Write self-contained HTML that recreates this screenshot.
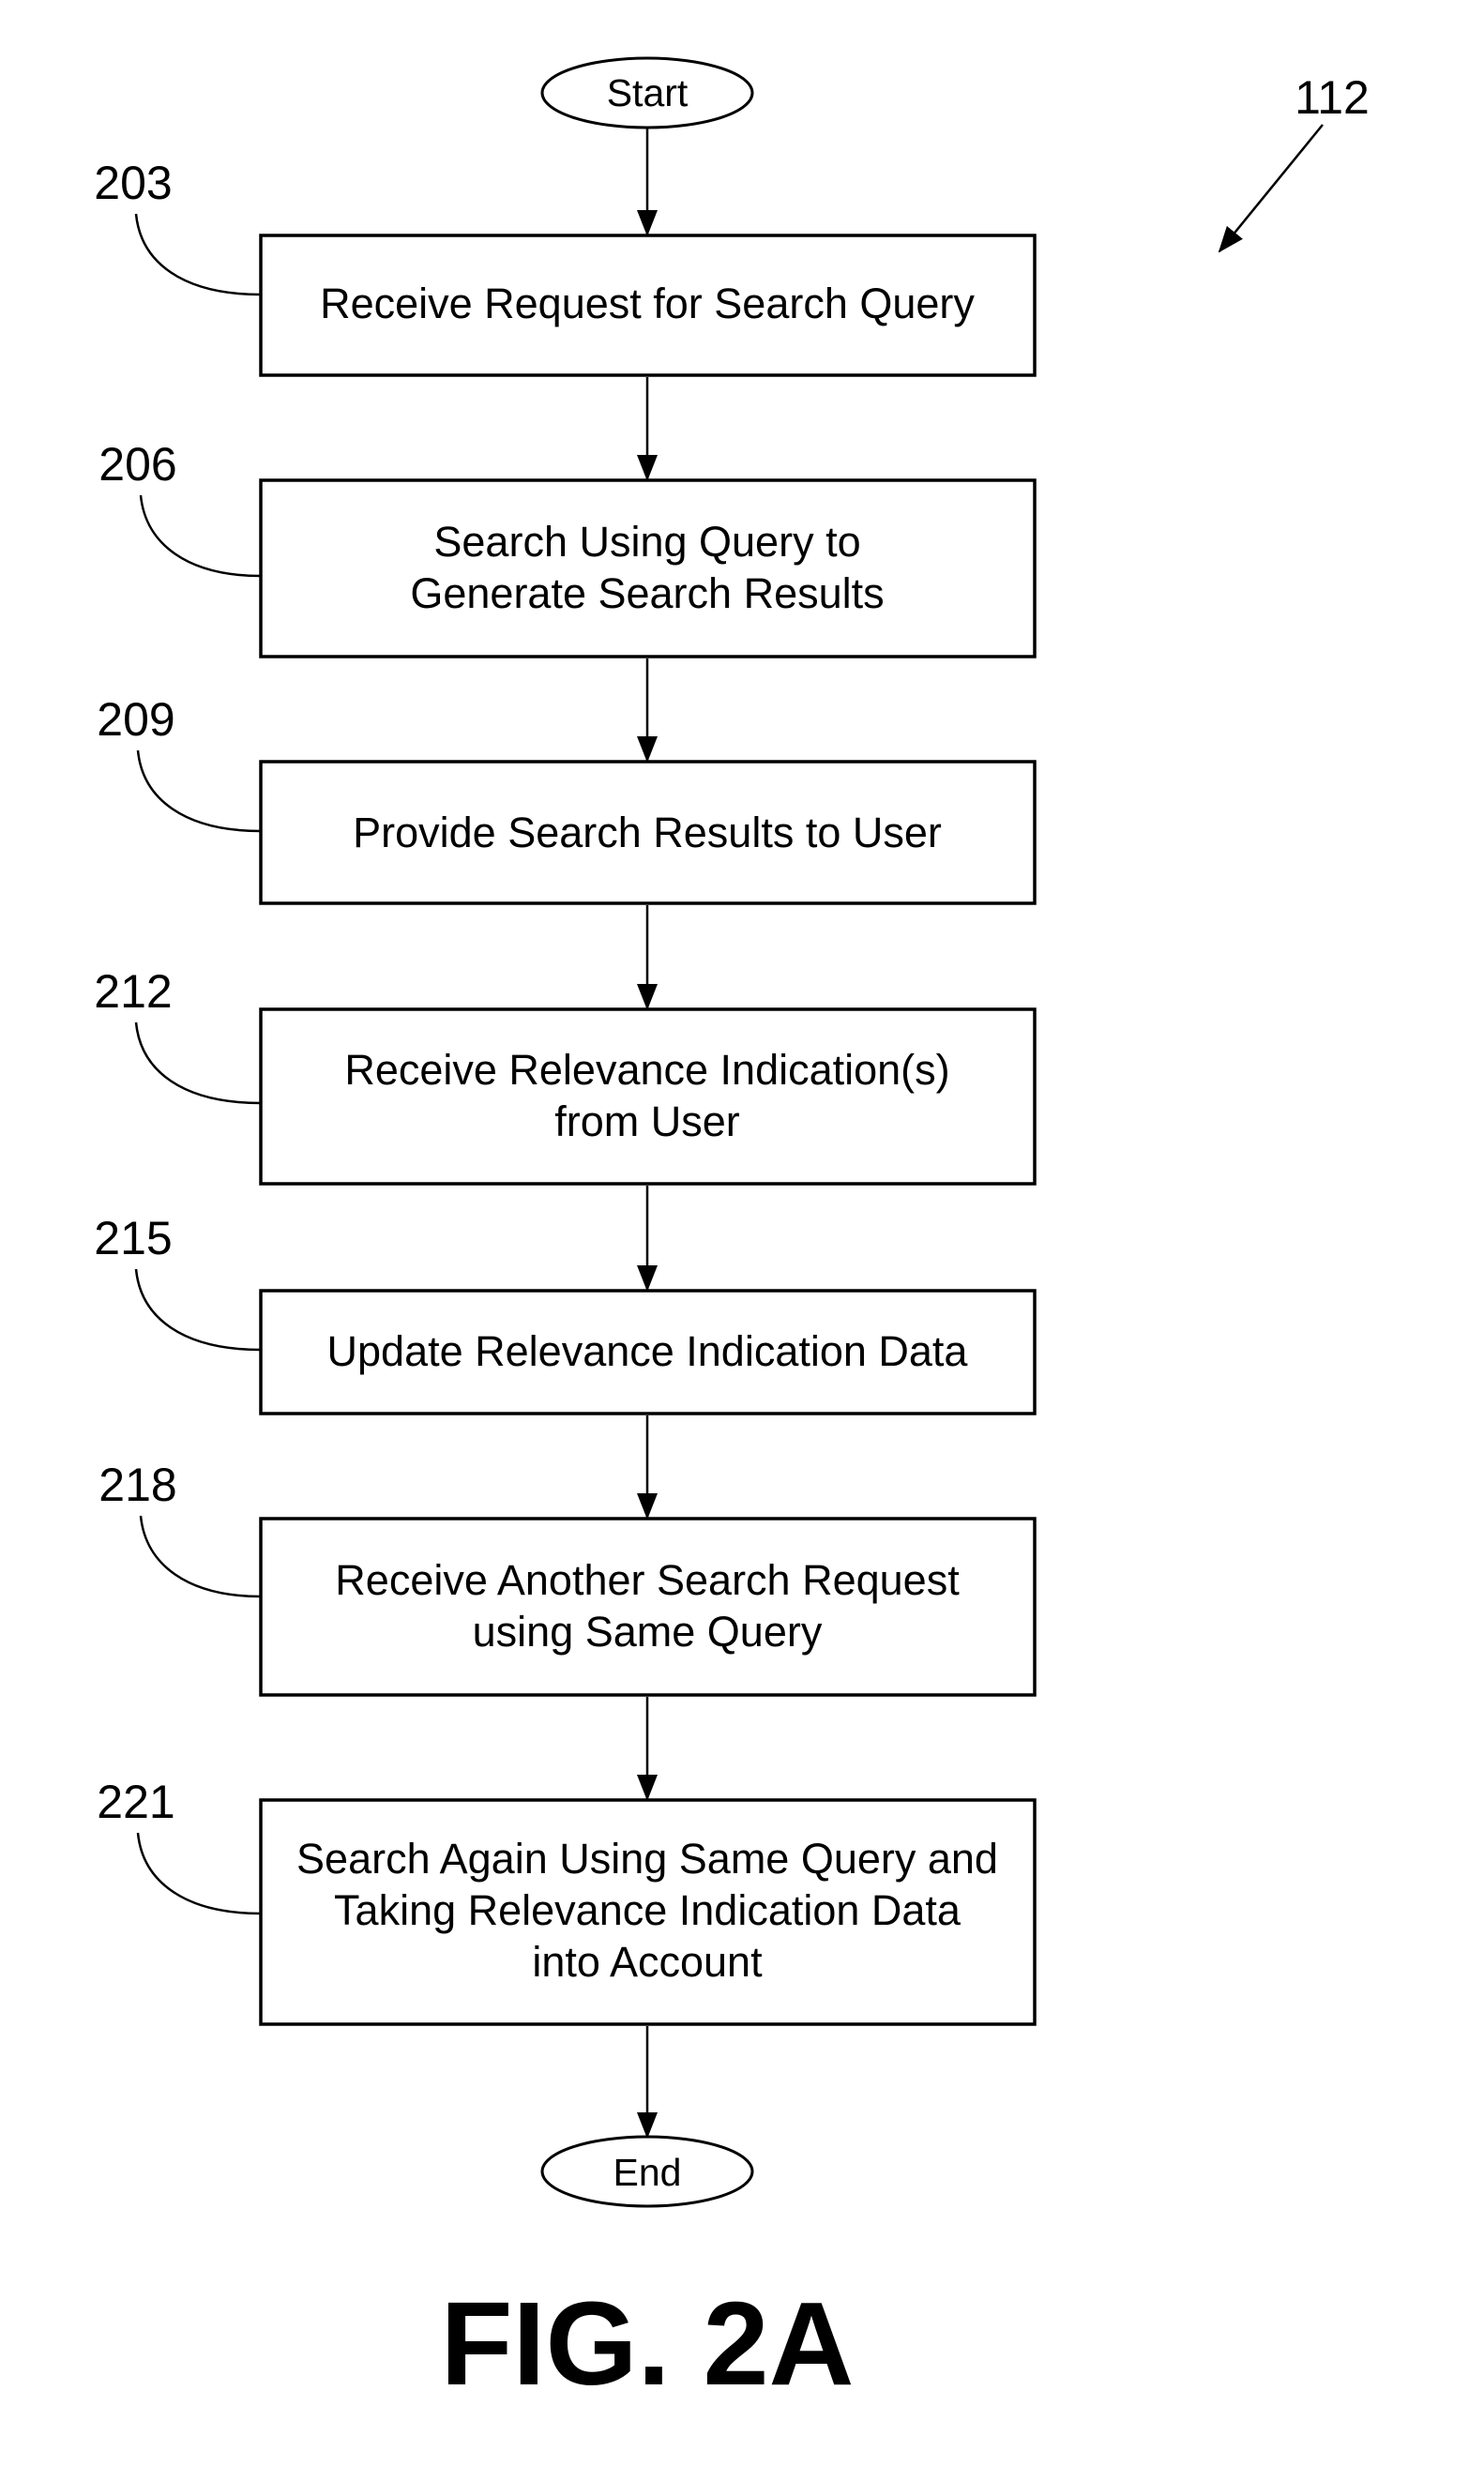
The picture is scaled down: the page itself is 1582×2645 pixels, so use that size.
<!DOCTYPE html>
<html><head><meta charset="utf-8"><style>
html,body{margin:0;padding:0;background:#fff;}
svg{display:block;}
text{font-family:"Liberation Sans",Arial,sans-serif;fill:#000;}
</style></head><body>
<svg width="1582" height="2645" viewBox="0 0 1582 2645" xmlns="http://www.w3.org/2000/svg">
<defs>
<marker id="ah" markerWidth="12" markerHeight="14" refX="11" refY="7" orient="auto" markerUnits="userSpaceOnUse" viewBox="0 0 12 14">
<path d="M0,0 L12,7 L0,14 Z" fill="#000"/>
</marker>
<marker id="ah2" markerWidth="28" markerHeight="22" refX="26" refY="11" orient="auto" markerUnits="userSpaceOnUse" viewBox="0 0 28 22">
<path d="M0,0 L28,11 L0,22 Z" fill="#000"/>
</marker>
</defs>
<g fill="none" stroke="#000" stroke-width="3.5">
<ellipse cx="690" cy="99" rx="112" ry="37" stroke-width="3"/>
<rect x="278" y="251" width="825" height="149"/>
<rect x="278" y="512" width="825" height="188"/>
<rect x="278" y="812" width="825" height="151"/>
<rect x="278" y="1076" width="825" height="186"/>
<rect x="278" y="1376" width="825" height="131"/>
<rect x="278" y="1619" width="825" height="188"/>
<rect x="278" y="1919" width="825" height="239"/>
<ellipse cx="690" cy="2315" rx="112" ry="37" stroke-width="3"/>
</g>
<g stroke="#000" stroke-width="2.5" marker-end="url(#ah)">
<line x1="690" y1="137" x2="690" y2="250" marker-end="url(#ah2)"/>
<line x1="690" y1="402" x2="690" y2="511" marker-end="url(#ah2)"/>
<line x1="690" y1="702" x2="690" y2="811" marker-end="url(#ah2)"/>
<line x1="690" y1="965" x2="690" y2="1075" marker-end="url(#ah2)"/>
<line x1="690" y1="1264" x2="690" y2="1375" marker-end="url(#ah2)"/>
<line x1="690" y1="1509" x2="690" y2="1618" marker-end="url(#ah2)"/>
<line x1="690" y1="1809" x2="690" y2="1918" marker-end="url(#ah2)"/>
<line x1="690" y1="2160" x2="690" y2="2278" marker-end="url(#ah2)"/>
<line x1="1410" y1="133" x2="1300" y2="268" marker-end="url(#ah2)"/>
</g>
<g fill="none" stroke="#000" stroke-width="2.5">
<path d="M145,228 C150,280 195,314 278,314"/>
<path d="M150,528 C155,580 200,614 278,614"/>
<path d="M147,800 C152,852 197,886 278,886"/>
<path d="M145,1090 C150,1142 195,1176 278,1176"/>
<path d="M145,1353 C150,1405 195,1439 278,1439"/>
<path d="M150,1616 C155,1668 200,1702 278,1702"/>
<path d="M147,1954 C152,2006 197,2040 278,2040"/>
</g>
<g font-size="41" text-anchor="middle">
<text x="690" y="113">Start</text>
<text x="690" y="2330">End</text>
</g>
<g font-size="45" text-anchor="middle">
<text x="690" y="339">Receive Request for Search Query</text>
<text x="690" y="593">Search Using Query to</text>
<text x="690" y="648">Generate Search Results</text>
<text x="690" y="903">Provide Search Results to User</text>
<text x="690" y="1156">Receive Relevance Indication(s)</text>
<text x="690" y="1211">from User</text>
<text x="690" y="1456">Update Relevance Indication Data</text>
<text x="690" y="1700">Receive Another Search Request</text>
<text x="690" y="1755">using Same Query</text>
<text x="690" y="1997">Search Again Using Same Query and</text>
<text x="690" y="2052">Taking Relevance Indication Data</text>
<text x="690" y="2107">into Account</text>
</g>
<g font-size="50" text-anchor="middle">
<text x="142" y="212">203</text>
<text x="147" y="512">206</text>
<text x="145" y="784">209</text>
<text x="142" y="1074">212</text>
<text x="142" y="1337">215</text>
<text x="147" y="1600">218</text>
<text x="145" y="1938">221</text>
<text x="1420" y="121">112</text>
</g>
<text x="690" y="2542" font-size="126" font-weight="bold" text-anchor="middle">FIG. 2A</text>
</svg>
</body></html>
